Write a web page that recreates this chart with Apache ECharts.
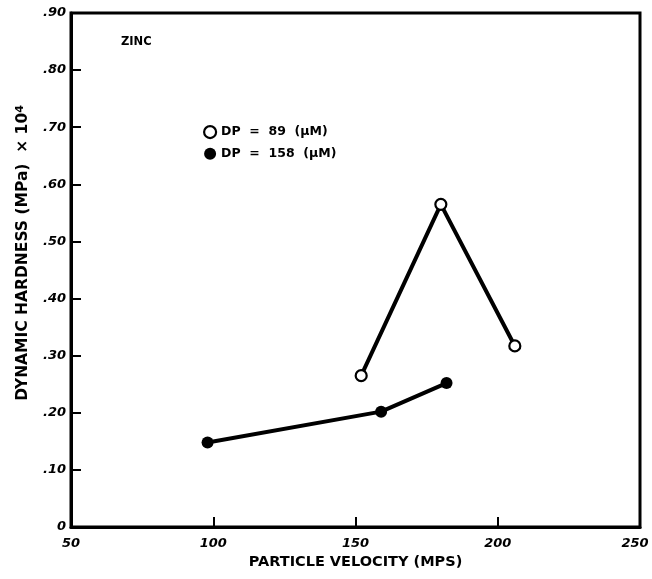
<!DOCTYPE html>
<html>
<head>
<meta charset="utf-8">
<script src="https://cdn.jsdelivr.net/npm/echarts@6/dist/echarts.min.js"></script>
<style>
  html, body { margin: 0; padding: 0; background: #fff; }
  #chart { width: 652px; height: 579px; }
</style>
</head>
<body>
<div id="chart"></div>
<script>
// Particle velocity (m/s) and dynamic hardness (MPa x 10^4) for zinc
const velocity89 = [152, 180, 206];
const hardness89 = [0.265, 0.565, 0.317];
const velocity158 = [98, 159, 182];
const hardness158 = [0.148, 0.202, 0.252];

const seriesNames = ['DP  =  89  (\u03bcM)', 'DP  =  158  (\u03bcM)'];
const xTicks = [50, 100, 150, 200, 250];
const yTicks = [0, 0.1, 0.2, 0.3, 0.4, 0.5, 0.6, 0.7, 0.8, 0.9];

const FONT = '"DejaVu Sans", "Liberation Sans", sans-serif';
const INK = '#000';

function pairs(xs, ys) { return xs.map((x, i) => [x, ys[i]]); }

const tickLabelStyle = { fontFamily: FONT, fontWeight: 'bold', fontStyle: 'italic', fontSize: 13, color: INK };

const chart = echarts.init(document.getElementById('chart'));
chart.setOption({
  animation: false,
  backgroundColor: '#fff',
  title: {
    text: 'ZINC',
    left: 116, top: 31,
    textStyle: { fontFamily: FONT, fontWeight: 'bold', fontSize: 11.5, color: INK }
  },
  legend: {
    orient: 'vertical',
    left: 198, top: 120,
    itemWidth: 12, itemHeight: 12, itemGap: 8,
    textStyle: { fontFamily: FONT, fontWeight: 'bold', fontSize: 12.5, color: INK },
    data: [
      { name: seriesNames[0], icon: 'circle', itemStyle: { color: '#fff', borderColor: INK, borderWidth: 2.2 } },
      { name: seriesNames[1], icon: 'circle', itemStyle: { color: INK, borderWidth: 0 } }
    ]
  },
  graphic: [
    {
      type: 'text',
      x: 23, y: 253,
      rotation: Math.PI / 2,
      style: {
        text: '{t|DYNAMIC HARDNESS (MPa)  \u00d7 10}{s|4}',
        align: 'center', verticalAlign: 'middle',
        rich: {
          t: { fontFamily: FONT, fontWeight: 'bold', fontSize: 15.5, fill: INK },
          s: { fontFamily: FONT, fontWeight: 'bold', fontSize: 11, fill: INK, verticalAlign: 'top', padding: [0, 0, 6, 0] }
        }
      }
    }
  ],
  grid: {
    left: 71, right: 12, top: 13, bottom: 52,
    outerBoundsMode: 'none',
    containLabel: false,
    show: true, borderColor: INK, borderWidth: 3, backgroundColor: 'transparent'
  },
  xAxis: {
    type: 'value', min: 50, max: 250, interval: 50,
    name: 'PARTICLE VELOCITY (MPS)',
    nameLocation: 'middle', nameGap: 27,
    nameTextStyle: { fontFamily: FONT, fontWeight: 'bold', fontSize: 14.5, color: INK },
    axisLine: { show: true, lineStyle: { color: INK, width: 3 } },
    axisTick: { show: true, inside: true, length: 10, lineStyle: { color: INK, width: 2 } },
    axisLabel: Object.assign({
      margin: 10,
      formatter: v => {
        if (!xTicks.includes(v)) return '';
        // the last label sits a little inside the right border
        return v === xTicks[xTicks.length - 1] ? '{edge|' + v + '}' : String(v);
      },
      rich: { edge: Object.assign({ padding: [0, 10, 0, 0] }, tickLabelStyle) }
    }, tickLabelStyle),
    splitLine: { show: false }
  },
  yAxis: {
    type: 'value', min: 0, max: 0.9, interval: 0.1,
    axisLine: { show: true, lineStyle: { color: INK, width: 3 } },
    axisTick: { show: true, inside: true, length: 10, lineStyle: { color: INK, width: 2 } },
    axisLabel: Object.assign({
      margin: 5,
      formatter: v => {
        const t = yTicks.find(y => Math.abs(y - v) < 1e-6);
        if (t === undefined) return '';
        return t === 0 ? '0' : '.' + Math.round(t * 100).toString().padStart(2, '0');
      }
    }, tickLabelStyle),
    splitLine: { show: false }
  },
  series: [
    {
      name: seriesNames[0], type: 'line',
      data: pairs(velocity89, hardness89),
      symbol: 'circle', symbolSize: 11,
      itemStyle: { color: '#fff', borderColor: INK, borderWidth: 2.2 },
      lineStyle: { color: INK, width: 4 },
      z: 3
    },
    {
      name: seriesNames[1], type: 'line',
      data: pairs(velocity158, hardness158),
      symbol: 'circle', symbolSize: 12,
      itemStyle: { color: INK, borderWidth: 0 },
      lineStyle: { color: INK, width: 4 },
      z: 3
    }
  ]
});
</script>
</body>
</html>
